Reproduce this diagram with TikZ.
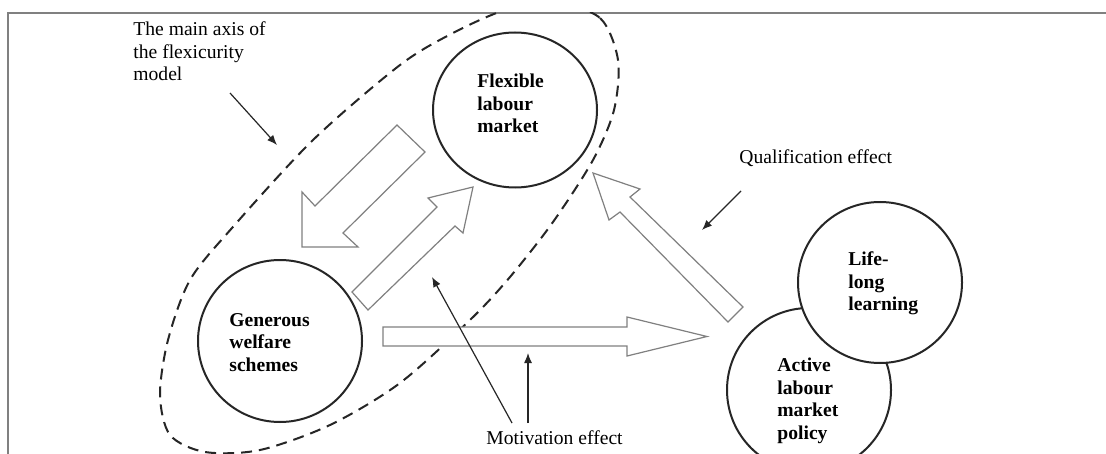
\documentclass[tikz,border=0pt]{standalone}
\usepackage{fontspec}
\setmainfont{Liberation Serif}
\usetikzlibrary{arrows.meta,shapes.geometric}
\begin{document}
\begin{tikzpicture}[x=0.5pt,y=-0.5pt,
  circ/.style={ellipse,draw=black!85,line width=1pt,fill=white,inner sep=0pt},
  blockarrow/.style={draw=black!50,line width=0.6pt,fill=white,line join=miter},
  thinarrow/.style={-{Latex[length=5pt,width=4pt]},line width=0.6pt,draw=black!85},
  lbl/.style={inner sep=0pt,align=left,anchor=north west,font=\fontsize{9.8}{11.25}\selectfont},
  blbl/.style={lbl,font=\fontsize{9.8}{11.25}\selectfont\bfseries},
  axisline/.style={draw=black!85,line width=1pt,dash pattern=on 5.5pt off 3.5pt},
  frameline/.style={draw=black!50,line width=0.8pt}
]
\useasboundingbox (0,0) rectangle (1106,454);
\fill[white] (0,0) rectangle (1106,454);

% frame
\draw[frameline] (8,454) -- (8,13) -- (1106,13);

% dashed main axis
\begin{scope}
\clip (8,13) rectangle (1106,454);
\draw[axisline] plot[smooth cycle] coordinates {
 (553,2) (600,18) (618,60) (614,110) (593,160) (553,222) (510,277) (470,320)
 (400,383) (330,425) (260,450) (205,452) (170,435) (160,395) (168,340)
 (190,280) (232,228) (313,140) (400,65) (453,33) (505,10)};
\end{scope}

% circles
\node[circ,minimum width=82pt,minimum height=77.5pt] (flm) at (515,110) {};
\node[circ,minimum width=82pt,minimum height=81pt] (gws) at (280,341) {};
\node[circ,minimum width=82pt,minimum height=82pt] (almp) at (809,390) {};
\node[circ,minimum width=82pt,minimum height=80.5pt] (lll) at (880,282.5) {};

% circle texts
\node[blbl] (flmt) at (477,73.7) {Flexible\\labour\\market};
\node[blbl] (gwst) at (229,313) {Generous\\welfare\\schemes};
\node[blbl] (lllt) at (848,251.7) {Life-\\long\\learning};
\node[blbl] (almpt) at (777,357.7) {Active\\labour\\market\\policy};

% block arrows
\draw[blockarrow] (397,125) -- (425,152) -- (343,233) -- (358,247) -- (302,247) -- (302,192) -- (315,206) -- cycle;
\draw[blockarrow] (352,292) -- (437,207) -- (428,198) -- (473,187) -- (463,233) -- (455,226) -- (368,310) -- cycle;
\draw[blockarrow] (383,327) -- (627,327) -- (627,317) -- (707,336.5) -- (627,356) -- (627,346) -- (383,346) -- cycle;
\draw[blockarrow] (743,307) -- (630,197) -- (640,189) -- (593,173) -- (609,220) -- (620,212) -- (728,322) -- cycle;

% labels
\node[lbl] (axislbl) at (133,21.6) {The main axis of\\the flexicurity\\model};
\node[lbl] (quallbl) at (739,149.6) {Qualification effect};
\node[lbl] (motlbl) at (486,430.6) {Motivation effect};

% thin arrows
\coordinate (ma1) at (230,93);
\coordinate (ma2) at (277,145);
\coordinate (qa1) at (741,191);
\coordinate (qa2) at (702,230);
\coordinate (mo1a) at (512,423);
\coordinate (mo1b) at (432,277);
\coordinate (mo2a) at (528,423);
\coordinate (mo2b) at (528,353);
\draw[thinarrow] (ma1) -- (ma2);
\draw[thinarrow] (qa1) -- (qa2);
\draw[thinarrow] (mo1a) -- (mo1b);
\draw[thinarrow] (mo2a) -- (mo2b);
\end{tikzpicture}
\end{document}
